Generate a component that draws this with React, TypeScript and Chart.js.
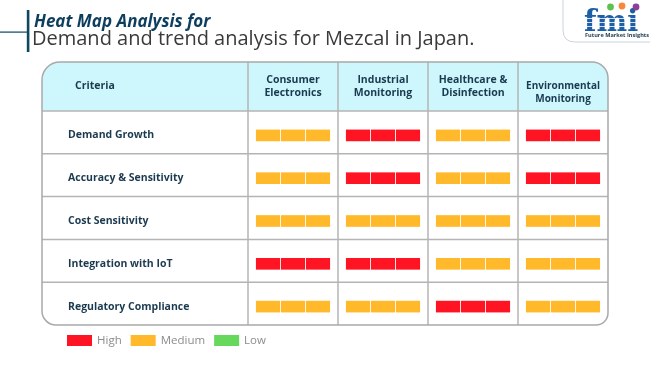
import React, { useEffect, useRef } from 'react';
import { Chart, registerables } from 'chart.js';

Chart.register(...registerables);

// ---------- data ----------
const criteria = [
  'Demand Growth',
  'Accuracy & Sensitivity',
  'Cost Sensitivity',
  'Integration with IoT',
  'Regulatory Compliance',
];
const applications = [
  ['Consumer', 'Electronics'],
  ['Industrial', 'Monitoring'],
  ['Healthcare &', 'Disinfection'],
  ['Environmental', 'Monitoring'],
];
const levels = ['High', 'Medium', 'Low'];
const consumerElectronics = ['Medium', 'Medium', 'Medium', 'High', 'Medium'];
const industrialMonitoring = ['High', 'High', 'Medium', 'High', 'Medium'];
const healthcareDisinfection = ['Medium', 'Medium', 'Medium', 'Medium', 'High'];
const environmentalMonitoring = ['High', 'High', 'Medium', 'Medium', 'Medium'];
const segmentsPerCell = 3;

const titleLine1 = 'Heat Map Analysis for';
const titleLine2 = 'Demand and trend analysis for Mezcal in Japan.';

// ---------- styles ----------
const levelColors: Record<string, string> = {
  High: '#ff1424',
  Medium: '#ffb92b',
  Low: '#66d95c',
};
const FONT = '"Open Sans", sans-serif';
const NAVY = '#1b3a4f';
const LINE = '#b4b4b4';
const HEADER_BG = '#cdf6fd';

export default function App() {
  const ref = useRef<HTMLCanvasElement>(null);

  useEffect(() => {
    if (!ref.current) return;
    const columns = [consumerElectronics, industrialMonitoring, healthcareDisinfection, environmentalMonitoring];
    const MARGIN = 0.0833;
    const SEG = (1 - 2 * MARGIN) / segmentsPerCell;
    const GAP = 0.0085;
    const datasets: any[] = [];
    columns.forEach((col, c) => {
      for (let s = 0; s < segmentsPerCell; s++) {
        datasets.push({
          label: `${applications[c].join(' ')} ${s + 1}`,
          data: col.map(() => [c + MARGIN + s * SEG + GAP, c + MARGIN + (s + 1) * SEG - GAP]),
          backgroundColor: col.map((l) => levelColors[l]),
          borderWidth: 0,
          barThickness: 11,
          grouped: false,
        });
      }
    });

    const TABLE_LEFT = 42;
    const TABLE_TOP = 62;
    const SHIFT = 3;

    const decor = {
      id: 'decor',
      beforeDatasetsDraw(chart: any) {
        const { ctx, chartArea, scales } = chart;
        const xs = scales.x;
        const ys = scales.y;
        const n = criteria.length;
        const half = (ys.getPixelForValue(1) - ys.getPixelForValue(0)) / 2;
        const bounds: number[] = [];
        for (let i = 0; i <= n; i++) {
          if (i === 0) bounds.push(ys.getPixelForValue(0) - half - SHIFT);
          else bounds.push(ys.getPixelForValue(i - 1) + half - SHIFT);
        }
        const left = TABLE_LEFT;
        const right = chartArea.right;
        const top = TABLE_TOP;
        const bottom = bounds[n];
        const radii = [18, 16, 12, 14];
        ctx.save();
        // header fill
        ctx.beginPath();
        (ctx as any).roundRect(left, top, right - left, bottom - top, radii);
        ctx.save();
        ctx.clip();
        ctx.fillStyle = HEADER_BG;
        ctx.fillRect(left, top, right - left, bounds[0] - top);
        ctx.restore();
        // lines
        ctx.strokeStyle = LINE;
        ctx.lineWidth = 1.5;
        for (let i = 0; i < n; i++) {
          ctx.beginPath();
          ctx.moveTo(left, bounds[i]);
          ctx.lineTo(right, bounds[i]);
          ctx.stroke();
        }
        for (let c = 0; c < applications.length; c++) {
          const px = xs.getPixelForValue(c);
          ctx.beginPath();
          ctx.moveTo(px, top);
          ctx.lineTo(px, bottom);
          ctx.stroke();
        }
        // outer border
        ctx.beginPath();
        (ctx as any).roundRect(left, top, right - left, bottom - top, radii);
        ctx.strokeStyle = '#a9a9a9';
        ctx.stroke();
        // header text
        const hy = (top + bounds[0]) / 2;
        ctx.fillStyle = NAVY;
        ctx.font = `bold 10.5px ${FONT}`;
        ctx.textBaseline = 'middle';
        ctx.textAlign = 'left';
        ctx.fillText('Criteria', 75, hy);
        ctx.textAlign = 'center';
        applications.forEach((lines, c) => {
          const cx = xs.getPixelForValue(c + 0.5);
          const off = c === applications.length - 1 ? 6 : 0;
          ctx.font = `bold ${c === applications.length - 1 ? 10 : 10.5}px ${FONT}`;
          ctx.fillText(lines[0], cx, hy - 6 + off);
          ctx.fillText(lines[1], cx, hy + 6.5 + off);
        });
        ctx.restore();
      },
      afterDraw(chart: any) {
        const { ctx } = chart;
        ctx.save();
        // title decoration
        ctx.fillStyle = '#0d4760';
        ctx.fillRect(26.8, 10, 2.6, 42);
        ctx.fillRect(0, 31.5, 27, 1.2);
        ctx.textBaseline = 'alphabetic';
        ctx.textAlign = 'left';
        ctx.fillStyle = '#0e3e5e';
        ctx.font = `italic bold 17px ${FONT}`;
        ctx.fillText(titleLine1, 34, 27);
        ctx.fillStyle = '#3a3a3a';
        ctx.font = `20px ${FONT}`;
        ctx.fillText(titleLine2, 32, 45);
        // logo frame
        ctx.strokeStyle = '#c9d3dc';
        ctx.lineWidth = 1;
        ctx.beginPath();
        ctx.moveTo(563, 0);
        ctx.lineTo(563, 30);
        ctx.quadraticCurveTo(563, 42, 575, 42);
        ctx.lineTo(650, 42);
        ctx.stroke();
        ctx.fillStyle = '#1c5fa6';
        ctx.font = `bold 29px "DejaVu Serif", serif`;
        ctx.fillText('fmi', 584, 31);
        ctx.fillStyle = '#ffffff';
        for (const yy of [18, 22, 26]) ctx.fillRect(584, yy, 62, 0.8);
        const dots: [number, number, string][] = [
          [610.5, 7, '#5cc150'],
          [622, 6, '#f58a3a'],
          [636, 7, '#8e3f9c'],
        ];
        for (const [dx, dy, col] of dots) {
          ctx.fillStyle = col;
          ctx.beginPath();
          ctx.arc(dx, dy, 3.4, 0, Math.PI * 2);
          ctx.fill();
        }
        ctx.fillStyle = '#1b3a4f';
        ctx.font = `bold 5.6px ${FONT}`;
        ctx.fillText('Future Market Insights', 585, 37);
        // legend
        let lx = 67;
        ctx.font = `11.5px ${FONT}`;
        ctx.textBaseline = 'middle';
        for (const lvl of levels) {
          ctx.fillStyle = levelColors[lvl];
          ctx.fillRect(lx, 335, 25, 11);
          ctx.fillStyle = '#8c8c8c';
          ctx.fillText(lvl, lx + 30, 340.8);
          lx += 30 + ctx.measureText(lvl).width + 9;
        }
        ctx.restore();
      },
    };

    const chart = new Chart(ref.current, {
      type: 'bar',
      data: { labels: criteria, datasets },
      options: {
        animation: false,
        responsive: false,
        indexAxis: 'y',
        layout: { padding: { left: 68, right: 42, top: 114, bottom: 37 } },
        plugins: { legend: { display: false }, tooltip: { enabled: false } },
        scales: {
          x: { type: 'linear', min: 0, max: applications.length, display: false },
          y: {
            type: 'category',
            offset: true,
            grid: { display: false },
            border: { display: false },
            ticks: {
              crossAlign: 'far',
              color: NAVY,
              font: { family: FONT, size: 10.5, weight: 'bold' },
            },
            afterFit: (scale: any) => {
              scale.width = 180;
            },
          },
        },
      },
      plugins: [decor],
    } as any);
    return () => chart.destroy();
  }, []);

  return (
    <div style={{ position: 'absolute', left: 0, top: 0, width: 650, height: 365, background: '#fff' }}>
      <canvas ref={ref} width={650} height={365} style={{ display: 'block' }} />
    </div>
  );
}
